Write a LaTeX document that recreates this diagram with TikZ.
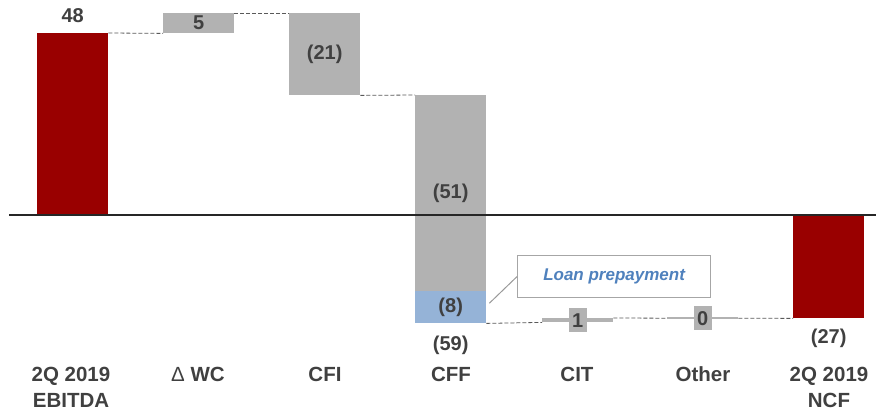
\documentclass[tikz,border=0pt]{standalone}
\usepackage{fontspec}
\setmainfont{Liberation Sans}
\usetikzlibrary{positioning}
\definecolor{barred}{HTML}{990000}
\definecolor{bargray}{HTML}{B2B2B2}
\definecolor{barblue}{HTML}{95B3D7}
\definecolor{txtgray}{HTML}{404040}
\definecolor{loanblue}{HTML}{4F81BD}
\tikzset{
  bar/.style={draw=none, minimum width=71pt, inner sep=0pt, anchor=north west, font=\fontsize{20}{20}\selectfont\bfseries, text=txtgray},
  redbar/.style={bar, fill=barred},
  graybar/.style={bar, fill=bargray},
  bluebar/.style={bar, fill=barblue},
  valtxt/.style={font=\fontsize{20}{20}\selectfont\bfseries, text=txtgray, inner sep=0pt},
  tag/.style={valtxt, fill=bargray, minimum width=18pt, minimum height=24pt},
  catlbl/.style={font=\fontsize{20.5}{26}\selectfont\bfseries, text=txtgray, align=center, anchor=base, inner sep=0pt},
  link/.style={dash pattern=on 4pt off 2pt, line width=0.8pt, black!65},
  zeroline/.style={line width=1.6pt, black!85},
  callout/.style={draw=black!35, line width=1.2pt, fill=white, minimum width=193pt, minimum height=42pt, inner sep=0pt, anchor=north west, font=\fontsize{17}{17}\selectfont\bfseries\itshape, text=loanblue},
  calloutline/.style={black!40, line width=1pt},
}

\begin{document}
\begin{tikzpicture}[x=1pt, y=-1pt]
\useasboundingbox (0,0) rectangle (876,411);
% bars of the waterfall
\node[redbar, minimum height=182pt] (ebitda) at (37,33) {};
\node[graybar, minimum height=20pt] (dwc) at (163,13) {5};
\node[graybar, minimum height=82pt] (cfi) at (289,13) {(21)};
\node[graybar, minimum height=196pt] (cffa) at (415,95) {(51)};
\node[bluebar, minimum height=32pt] (cffb) at (415,291) {(8)};
\node[graybar, minimum height=4pt] (cit) at (542,318) {};
\node[graybar, minimum height=2pt] (other) at (667,317) {};
\node[redbar, minimum height=103pt] (ncf) at (793,215) {};
% zero line
\coordinate (zl) at (9,215);
\coordinate (zr) at (876,215);
\draw[zeroline] (zl) -- (zr);
% values
\node[valtxt, above=10pt of ebitda] (v48) {48};
\node[valtxt, below=12pt of cffb] (v59) {(59)};
\node[valtxt, below=10pt of ncf] (v27) {(27)};
\node[tag] (tcit) at (cit) {1};
\node[tag] (toth) at (other) {0};
% dashed steps
\draw[link] (ebitda.north east) -- (dwc.south west);
\draw[link] (dwc.north east) -- (cfi.north west);
\draw[link] (cfi.south east) -- (cffa.north west);
\draw[link] (cffb.south east) -- (cit.south west);
\draw[link] (cit.north east) -- (other.west);
\draw[link] (other.east) -- (ncf.south west);
% callout
\node[callout] (loan) at (517,255) {Loan prepayment};
\draw[calloutline] (loan.west) -- ([xshift=3pt,yshift=4pt]cffb.east);
% categories (base = last line)
\node[catlbl] (lebitda) at (71,408) {2Q 2019\\EBITDA};
\node[catlbl] (ldwc) at (198,382) {\textmd{Δ} WC};
\node[catlbl] (lcfi) at (325,382) {CFI};
\node[catlbl] (lcff) at (451,382) {CFF};
\node[catlbl] (lcit) at (577,382) {CIT};
\node[catlbl] (loth) at (703,382) {Other};
\node[catlbl] (lncf) at (829,408) {2Q 2019\\NCF};
\end{tikzpicture}
\end{document}
